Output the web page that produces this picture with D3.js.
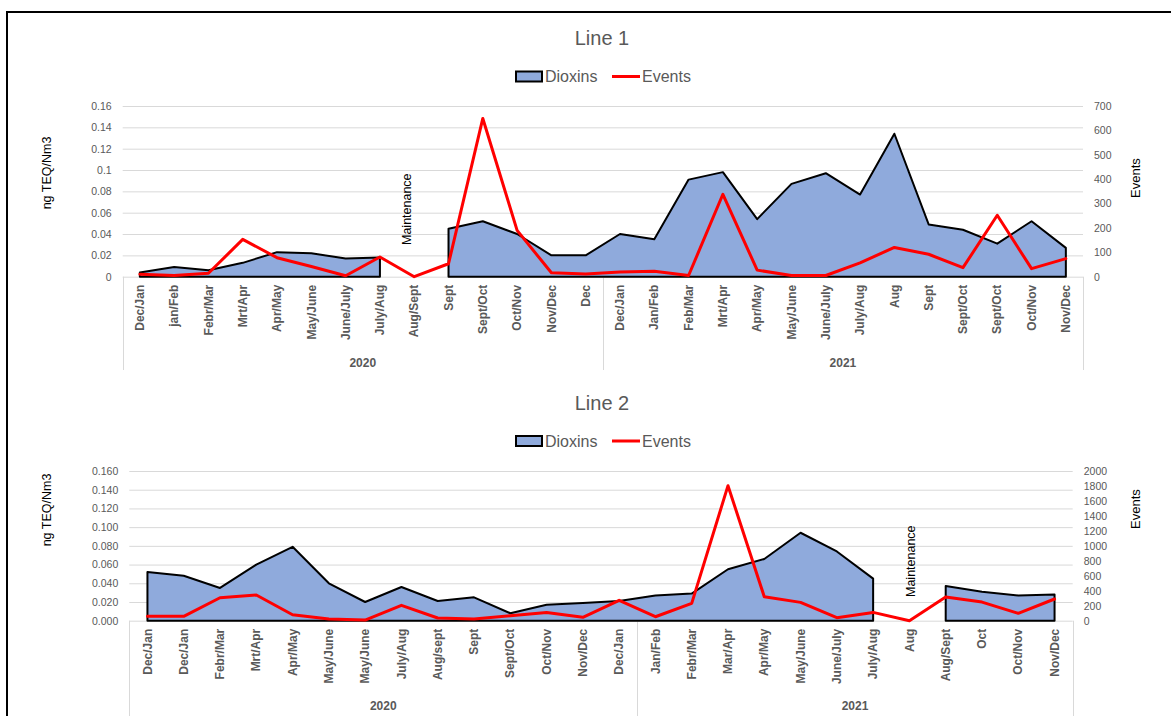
<!DOCTYPE html>
<html>
<head>
<meta charset="utf-8">
<script src="https://cdn.jsdelivr.net/npm/d3@7"></script>
<style>
  body { margin: 0; background: #fff; }
  svg { display: block; }
  text { font-family: "Liberation Sans", Arial, sans-serif; }
</style>
</head>
<body>
<svg id="chart" width="1171" height="716"></svg>
<script>
// ---- Line 1 data ----
const line1Categories = [
  "Dec/Jan", "jan/Feb", "Febr/Mar", "Mrt/Apr", "Apr/May", "May/June", "June/July",
  "July/Aug", "Aug/Sept", "Sept", "Sept/Oct", "Oct/Nov", "Nov/Dec", "Dec",
  "Dec/Jan", "Jan/Feb", "Feb/Mar", "Mrt/Apr", "Apr/May", "May/June", "June/July",
  "July/Aug", "Aug", "Sept", "Sept/Oct", "Sept/Oct", "Oct/Nov", "Nov/Dec"
];
const line1Years = ["2020", "2021"];
const line1YearSpans = [14, 14];
const line1Dioxins = [
  0.004, 0.009, 0.006, 0.013, 0.023, 0.022, 0.017, 0.018, null, 0.045, 0.052, 0.040, 0.020, 0.020,
  0.040, 0.035, 0.091, 0.098, 0.054, 0.087, 0.097, 0.077, 0.134, 0.049, 0.044, 0.031, 0.052, 0.027
];
const line1Events = [
  10, 5, 14, 153, 78, 42, 4, 81, 0, 53, 649, 190, 16, 11,
  19, 22, 5, 338, 27, 5, 5, 57, 120, 92, 37, 252, 33, 74
];
const line1DioxinTicks = [0, 0.02, 0.04, 0.06, 0.08, 0.1, 0.12, 0.14, 0.16];
const line1EventTicks = [0, 100, 200, 300, 400, 500, 600, 700];

// ---- Line 2 data ----
const line2Categories = [
  "Dec/Jan", "Dec/Jan", "Febr/Mar", "Mrt/Apr", "Apr/May", "May/June", "May/June",
  "July/Aug", "Aug/sept", "Sept", "Sept/Oct", "Oct/Nov", "Nov/Dec", "Dec/Jan",
  "Jan/Feb", "Febr/Mar", "Mar/Apr", "Apr/May", "May/June", "June/July", "July/Aug",
  "Aug", "Aug/Sept", "Oct", "Oct/Nov", "Nov/Dec"
];
const line2Years = ["2020", "2021"];
const line2YearSpans = [14, 12];
const line2Dioxins = [
  0.052, 0.048, 0.035, 0.060, 0.079, 0.040, 0.020, 0.036, 0.021, 0.025, 0.008, 0.017, 0.019, 0.021,
  0.027, 0.029, 0.055, 0.066, 0.094, 0.074, 0.045, null, 0.037, 0.031, 0.027, 0.028
];
const line2Events = [
  58, 58, 307, 343, 80, 22, 9, 205, 36, 22, 67, 111, 45, 272,
  53, 232, 1804, 321, 245, 40, 111, 0, 316, 249, 98, 290
];
const line2DioxinTicks = [0, 0.02, 0.04, 0.06, 0.08, 0.1, 0.12, 0.14, 0.16];
const line2EventTicks = [0, 200, 400, 600, 800, 1000, 1200, 1400, 1600, 1800, 2000];

const AREA_FILL = "#8FAADC";
const EVENT_RED = "#FF0000";
const GRID = "#D9D9D9";
const LABEL_GREY = "#595959";

const svg = d3.select("#chart");

// outer frame around both charts
svg.append("rect")
  .attr("x", 7).attr("y", 12)
  .attr("width", 1200).attr("height", 760)
  .attr("fill", "none").attr("stroke", "#000").attr("stroke-width", 2);

function drawPanel(p) {
  const g = svg.append("g");
  const n = p.categories.length;

  const x = d3.scaleBand().domain(d3.range(n)).range([p.left, p.right]);
  const bw = x.bandwidth();
  const cx = i => x(i) + bw / 2;
  const yL = d3.scaleLinear().domain([0, d3.max(p.dioxinTicks)]).range([p.bottom, p.top]);
  const yR = d3.scaleLinear().domain([0, d3.max(p.eventTicks)]).range([p.bottom, p.top]);

  // title
  g.append("text")
    .attr("x", p.center).attr("y", p.titleY)
    .attr("text-anchor", "middle")
    .attr("font-size", 20).attr("fill", LABEL_GREY)
    .text(p.title);

  // legend
  const lg = g.append("g").attr("transform", `translate(${p.center},${p.legendY})`);
  lg.append("rect")
    .attr("x", -86).attr("y", -5).attr("width", 26).attr("height", 10)
    .attr("fill", AREA_FILL).attr("stroke", "#000").attr("stroke-width", 2);
  lg.append("text")
    .attr("x", -57).attr("y", 0).attr("dy", "0.35em")
    .attr("font-size", 16).attr("fill", LABEL_GREY)
    .text("Dioxins");
  lg.append("line")
    .attr("x1", 10).attr("x2", 38).attr("y1", 0).attr("y2", 0)
    .attr("stroke", EVENT_RED).attr("stroke-width", 3);
  lg.append("text")
    .attr("x", 40).attr("y", 0).attr("dy", "0.35em")
    .attr("font-size", 16).attr("fill", LABEL_GREY)
    .text("Events");

  // horizontal gridlines (primary axis)
  g.append("g").selectAll("line")
    .data(p.dioxinTicks)
    .join("line")
    .attr("x1", p.left).attr("x2", p.right)
    .attr("y1", d => yL(d) + 0.5).attr("y2", d => yL(d) + 0.5)
    .attr("stroke", GRID).attr("stroke-width", 1);

  // left axis
  const axL = g.append("g")
    .attr("transform", `translate(${p.left},0)`)
    .call(d3.axisLeft(yL).tickValues(p.dioxinTicks).tickSize(0).tickPadding(11)
      .tickFormat(p.dioxinFormat));
  axL.select(".domain").remove();
  axL.selectAll("text").attr("font-size", 10.5).attr("fill", LABEL_GREY)
    .style("font-family", '"Liberation Sans", Arial, sans-serif');

  // right axis
  const axR = g.append("g")
    .attr("transform", `translate(${p.right},0)`)
    .call(d3.axisRight(yR).tickValues(p.eventTicks).tickSize(0).tickPadding(p.rightPad)
      .tickFormat(d3.format("d")));
  axR.select(".domain").remove();
  axR.selectAll("text").attr("font-size", 10.5).attr("fill", LABEL_GREY)
    .style("font-family", '"Liberation Sans", Arial, sans-serif');

  // axis titles
  g.append("text")
    .attr("transform", `translate(${p.leftTitleX},${p.leftTitleY}) rotate(-90)`)
    .attr("text-anchor", "middle").attr("dy", "0.35em")
    .attr("font-size", 12.5).attr("fill", "#000")
    .text("ng TEQ/Nm3");
  g.append("text")
    .attr("transform", `translate(${p.rightTitleX},${p.rightTitleY}) rotate(-90)`)
    .attr("text-anchor", "middle").attr("dy", "0.35em")
    .attr("font-size", 13).attr("fill", "#000")
    .text("Events");

  // category axis (rotated labels)
  const axB = g.append("g")
    .attr("transform", `translate(0,${p.bottom})`)
    .call(d3.axisBottom(x).tickSize(0).tickFormat(i => p.categories[i]));
  axB.select(".domain").remove();
  axB.selectAll("text")
    .attr("transform", "rotate(-90)")
    .attr("x", -8).attr("y", 0).attr("dy", "0.35em")
    .attr("text-anchor", "end")
    .attr("font-size", 12).attr("font-weight", "bold").attr("fill", LABEL_GREY)
    .style("font-family", '"Liberation Sans", Arial, sans-serif');

  // year grouping lines and labels
  let start = 0;
  const bounds = [x(0)];
  p.years.forEach((yr, k) => {
    const end = start + p.yearSpans[k];
    const x0 = x(start);
    const x1 = end < n ? x(end) : p.right;
    bounds.push(x1);
    g.append("text")
      .attr("x", (x0 + x1) / 2).attr("y", p.yearY)
      .attr("text-anchor", "middle")
      .attr("font-size", 12).attr("font-weight", "bold").attr("fill", LABEL_GREY)
      .text(yr);
    start = end;
  });
  g.append("g").selectAll("line")
    .data(bounds)
    .join("line")
    .attr("x1", d => Math.round(d) + 0.5).attr("x2", d => Math.round(d) + 0.5)
    .attr("y1", p.bottom).attr("y2", p.groupBottom)
    .attr("stroke", GRID).attr("stroke-width", 1);

  // dioxins area (gaps where there was no measurement)
  const area = d3.area()
    .defined(d => d != null)
    .x((d, i) => cx(i))
    .y0(yL(0))
    .y1(d => yL(d));
  g.append("path")
    .datum(p.dioxins)
    .attr("d", area)
    .attr("fill", AREA_FILL)
    .attr("stroke", "#000").attr("stroke-width", 2)
    .attr("stroke-linejoin", "round");

  // events line
  const line = d3.line()
    .x((d, i) => cx(i))
    .y(d => yR(d));
  g.append("path")
    .datum(p.events)
    .attr("d", line)
    .attr("fill", "none")
    .attr("stroke", EVENT_RED).attr("stroke-width", 3)
    .attr("stroke-linejoin", "round").attr("stroke-linecap", "round");

  // maintenance note
  g.append("text")
    .attr("transform", `translate(${cx(p.maintIndex) + p.maintDx},${p.maintY}) rotate(-90)`)
    .attr("text-anchor", "start").attr("dy", "0.35em")
    .attr("font-size", 12.5).attr("fill", "#000")
    .text("Maintenance");
}

drawPanel({
  title: "Line 1", titleY: 45, legendY: 76.5, center: 602,
  left: 122.7, right: 1083, top: 106, bottom: 276.7, groupBottom: 370, yearY: 367,
  categories: line1Categories, years: line1Years, yearSpans: line1YearSpans,
  dioxins: line1Dioxins, events: line1Events,
  dioxinTicks: line1DioxinTicks, eventTicks: line1EventTicks,
  dioxinFormat: d => d === 0 ? "0" : String(+d.toFixed(2)),
  rightPad: 11,
  leftTitleX: 47, leftTitleY: 173, rightTitleX: 1135, rightTitleY: 178,
  maintIndex: 8, maintDx: -8, maintY: 245
});

drawPanel({
  title: "Line 2", titleY: 410, legendY: 441, center: 602,
  left: 129.3, right: 1072.7, top: 471, bottom: 620.7, groupBottom: 720, yearY: 710,
  categories: line2Categories, years: line2Years, yearSpans: line2YearSpans,
  dioxins: line2Dioxins, events: line2Events,
  dioxinTicks: line2DioxinTicks, eventTicks: line2EventTicks,
  dioxinFormat: d3.format(".3f"),
  rightPad: 11,
  leftTitleX: 47, leftTitleY: 510, rightTitleX: 1135, rightTitleY: 509,
  maintIndex: 21, maintDx: 1, maintY: 597
});
</script>
</body>
</html>
